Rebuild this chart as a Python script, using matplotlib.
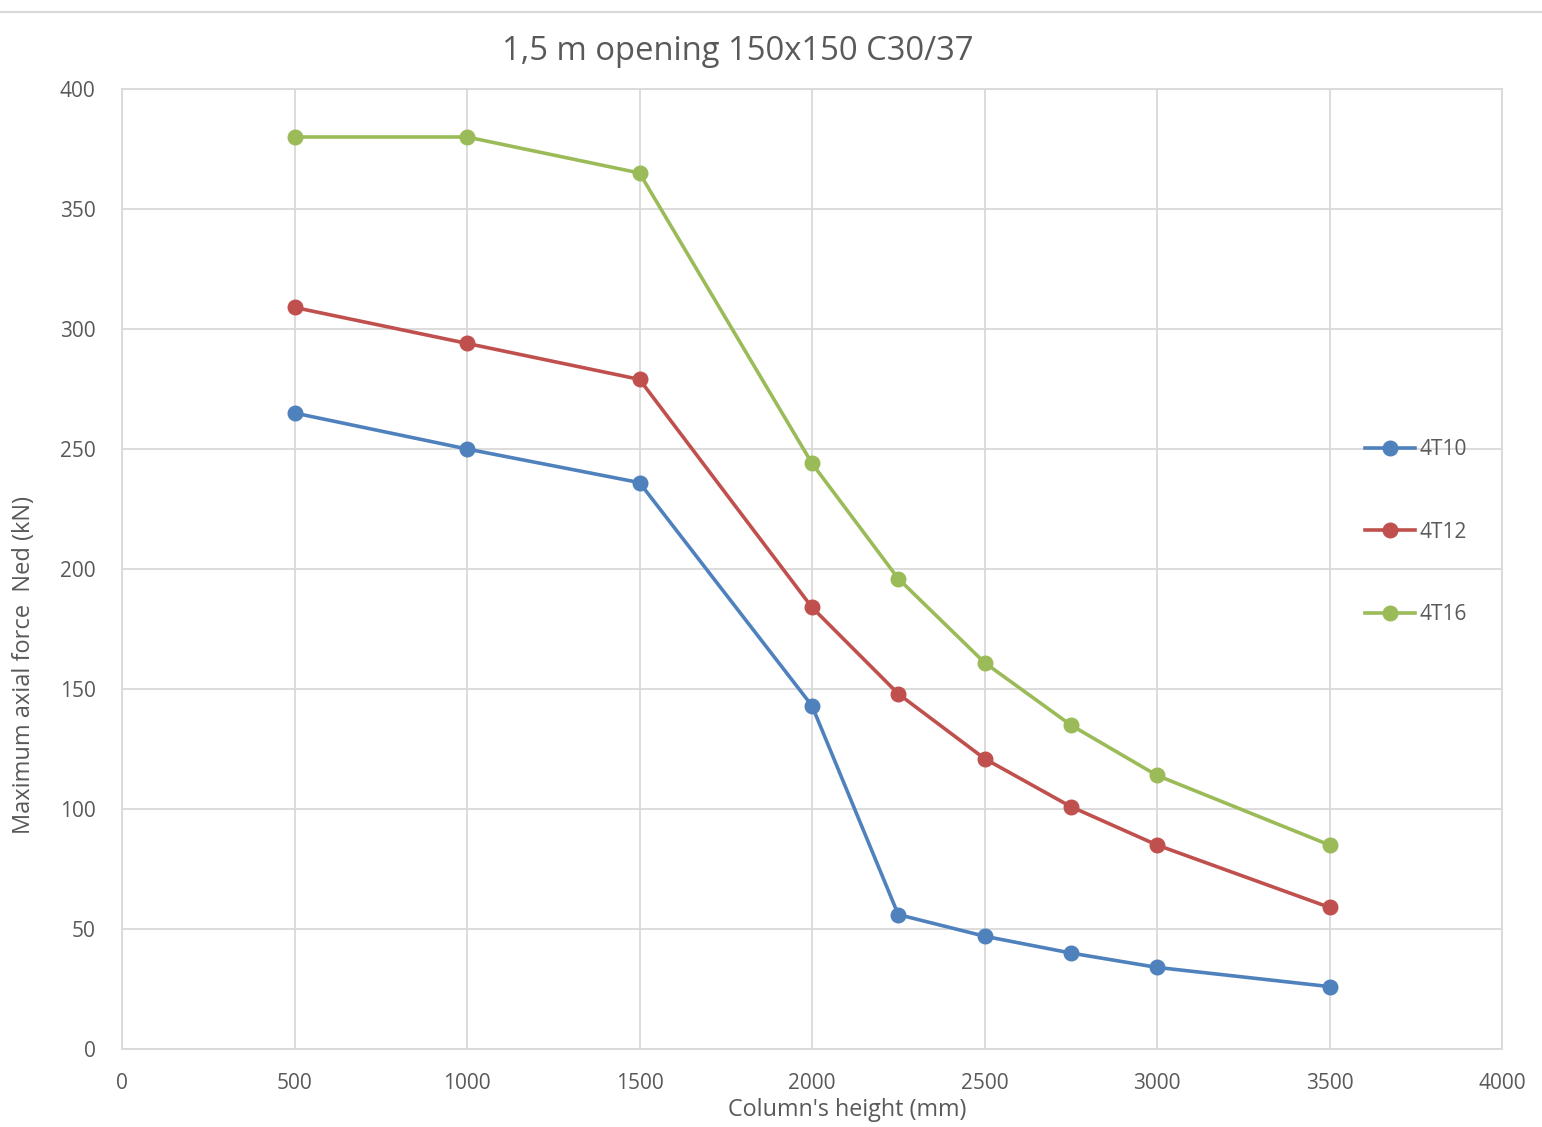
import matplotlib
matplotlib.use("Agg")
import matplotlib.pyplot as plt
from matplotlib.lines import Line2D

plt.rcParams['font.family'] = ['Open Sans', 'DejaVu Sans']

heights = [500, 1000, 1500, 2000, 2250, 2500, 2750, 3000, 3500]
s_4T10 = [265, 250, 236, 143, 56, 47, 40, 34, 26]
s_4T12 = [309, 294, 279, 184, 148, 121, 101, 85, 59]
s_4T16 = [380, 380, 365, 244, 196, 161, 135, 114, 85]
series = [("4T10", s_4T10, "#4F81BD"), ("4T12", s_4T12, "#C0504D"), ("4T16", s_4T16, "#9BBB59")]

txt = "#595959"
grid = "#D9D9D9"

fig = plt.figure(figsize=(15.42, 11.27), dpi=100)
ax = fig.add_axes([122/1542, 1-1049/1127, (1502-122)/1542, (1049-89)/1127])

handles = []
for name, vals, c in series:
    h, = ax.plot(heights, vals, color=c, lw=2.6, marker='o', ms=10.5, label=name)
    handles.append(h)

ax.set_xlim(0, 4000)
ax.set_ylim(0, 400)
ax.set_xticks(range(0, 4001, 500))
ax.set_yticks(range(0, 401, 50))
ax.grid(True, color=grid, lw=1.3)
ax.set_axisbelow(True)
for s in ax.spines.values():
    s.set_color(grid)
    s.set_linewidth(1.3)
ax.tick_params(length=0, colors=txt, labelsize=15)
ax.tick_params(axis='x', pad=17)
ax.tick_params(axis='y', pad=19)

fig.text(847/1542, 1-1110/1127, "Column's height (mm)", ha='center', va='center',
         color=txt, fontsize=16.8)
fig.text(24/1542, 1-665/1127, "Maximum axial force  Ned (kN)", ha='center', va='center',
         rotation=90, color=txt, fontsize=17)
fig.text(738/1542, 1-52/1127, "1,5 m opening 150x150 C30/37", ha='center', va='center',
         color=txt, fontsize=23.6)

leg = fig.legend(handles=handles, loc='center left', bbox_to_anchor=(1346/1542, 1-532/1127),
                 frameon=False, fontsize=15, labelspacing=2.95, handlelength=2.4,
                 handletextpad=0.25, labelcolor=txt)

fig.add_artist(Line2D([0, 1], [1-12/1127, 1-12/1127], color=grid, lw=1.5,
                      transform=fig.transFigure))

fig.savefig("out.png", dpi=100)
